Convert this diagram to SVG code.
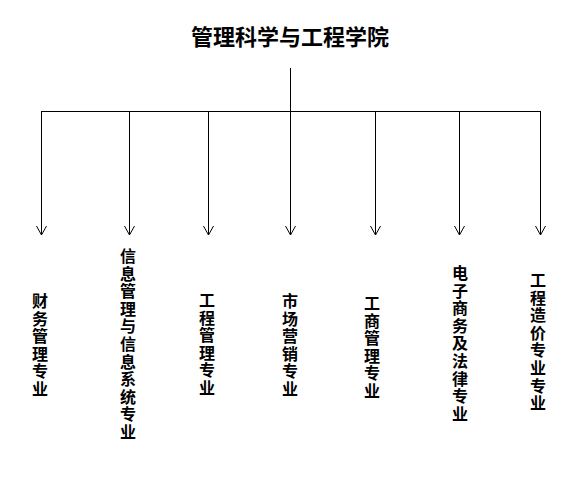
<svg xmlns="http://www.w3.org/2000/svg" width="583" height="502" viewBox="0 0 583 502">
<style>
.t{font-family:"Noto Sans CJK SC","Liberation Serif",serif;font-weight:bold;fill:#000}
.v{font-size:16px;writing-mode:vertical-rl;text-orientation:upright;letter-spacing:1.6px}
.c{stroke:#000;stroke-width:1;fill:none}
</style>
<defs>
<marker id="ah" markerWidth="12" markerHeight="12" refX="10" refY="6" orient="auto" markerUnits="userSpaceOnUse" viewBox="0 0 12 12">
<path d="M1,1 L10,6 L1,11" fill="none" stroke="#000" stroke-width="1"/>
</marker>
</defs>
<g id="root"><text class="t" x="290" y="45" font-size="22" text-anchor="middle">管理科学与工程学院</text></g>
<g id="connectors">
<path class="c" d="M290.5,68 V111.5 M41,111.5 H540.5"/>
<path class="c" d="M41.5,111 V235" marker-end="url(#ah)"/>
<path class="c" d="M129.5,111 V235" marker-end="url(#ah)"/>
<path class="c" d="M208.5,112 V235" marker-end="url(#ah)"/>
<path class="c" d="M290.5,111 V235" marker-end="url(#ah)"/>
<path class="c" d="M375.5,112 V235" marker-end="url(#ah)"/>
<path class="c" d="M459.5,112 V235" marker-end="url(#ah)"/>
<path class="c" d="M540.5,111 V235" marker-end="url(#ah)"/>
</g>
<g id="n1"><text class="t v" x="40" y="293">财务管理专业</text></g>
<g id="n2"><text class="t v" x="128" y="248">信息管理与信息系统专业</text></g>
<g id="n3"><text class="t v" x="207" y="292">工程管理专业</text></g>
<g id="n4"><text class="t v" x="290" y="293">市场营销专业</text></g>
<g id="n5"><text class="t v" x="372" y="295">工商管理专业</text></g>
<g id="n6"><text class="t v" x="460" y="265">电子商务及法律专业</text></g>
<g id="n7"><text class="t v" x="538" y="272">工程造价专业专业</text></g>
</svg>
